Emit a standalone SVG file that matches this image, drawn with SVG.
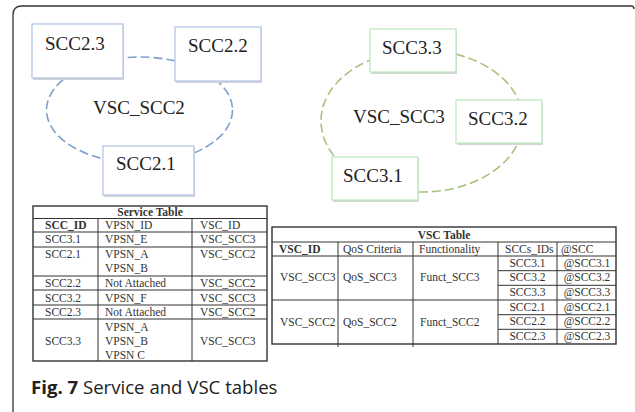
<svg xmlns="http://www.w3.org/2000/svg" width="635" height="412" viewBox="0 0 635 412">
<style>
.nodeB{fill:#fff;stroke:#b3c7e6;stroke-width:1.3}
.nodeG{fill:#fff;stroke:#bfe9bf;stroke-width:1.3}
.shadow{fill:#d4d4d4}
.lbl{font-family:"Liberation Serif",serif;font-size:19px;fill:#222}
.ell{fill:none;stroke-width:1.6;stroke-dasharray:9 4}
.t{font-family:"Liberation Serif",serif;font-size:11.5px;fill:#333}
.b{font-weight:bold}
.tl{stroke:#333;stroke-width:1;fill:none}
.to{stroke:#333;stroke-width:1.4;fill:none}
.cap{font-family:"Open Sans",sans-serif;font-size:18.6px;fill:#222}
</style>
<rect width="635" height="412" fill="#fff"/>
<path d="M13,412 V15 Q13,6 22,6 H631 Q634,6 634,9" fill="none" stroke="#333" stroke-width="1.3"/>

<g id="connectors">
<ellipse class="ell" cx="139.5" cy="110" rx="93" ry="53" stroke="#7f9fcc"/>
<ellipse class="ell" cx="422" cy="121" rx="101" ry="71" stroke="#a9c27d"/>
</g>

<text class="lbl" x="93" y="114">VSC_SCC2</text>
<text class="lbl" x="353" y="123">VSC_SCC3</text>

<g id="scc2_3"><rect class="shadow" x="33" y="26" width="91" height="54"/><rect class="nodeB" x="32" y="24" width="91" height="54"/><text class="lbl" x="45" y="50">SCC2.3</text></g>
<g id="scc2_2"><rect class="shadow" x="176" y="29" width="86" height="54"/><rect class="nodeB" x="175" y="27" width="86" height="54"/><text class="lbl" x="188" y="52">SCC2.2</text></g>
<g id="scc2_1"><rect class="shadow" x="104" y="148" width="91" height="49"/><rect class="nodeB" x="103" y="146" width="91" height="49"/><text class="lbl" x="116" y="170">SCC2.1</text></g>
<g id="scc3_3"><rect class="shadow" x="371" y="31" width="86" height="43"/><rect class="nodeG" x="370" y="29" width="86" height="43"/><text class="lbl" x="382" y="54">SCC3.3</text></g>
<g id="scc3_2"><rect class="shadow" x="457" y="102" width="86" height="43"/><rect class="nodeG" x="456" y="100" width="86" height="43"/><text class="lbl" x="468" y="125">SCC3.2</text></g>
<g id="scc3_1"><rect class="shadow" x="333" y="159" width="86" height="43"/><rect class="nodeG" x="332" y="157" width="86" height="43"/><text class="lbl" x="343" y="182">SCC3.1</text></g>

<g id="service_table">
<rect class="to" x="33" y="206" width="234" height="155"/>
<path class="tl" d="M33,218.5H267 M33,232H267 M33,247H267 M33,276H267 M33,290H267 M33,305H267 M33,319H267 M98,218.5V361 M192,218.5V361"/>
<text class="t b" x="150" y="215.5" text-anchor="middle">Service Table</text>
<text class="t b" x="45" y="229">SCC_ID</text><text class="t" x="105" y="229">VPSN_ID</text><text class="t" x="200" y="229">VSC_ID</text>
<text class="t" x="45" y="243">SCC3.1</text><text class="t" x="105" y="243">VPSN_E</text><text class="t" x="200" y="243">VSC_SCC3</text>
<text class="t" x="45" y="258">SCC2.1</text><text class="t" x="105" y="258">VPSN_A</text><text class="t" x="105" y="272">VPSN_B</text><text class="t" x="200" y="258">VSC_SCC2</text>
<text class="t" x="45" y="287">SCC2.2</text><text class="t" x="105" y="287">Not Attached</text><text class="t" x="200" y="287">VSC_SCC2</text>
<text class="t" x="45" y="301.5">SCC3.2</text><text class="t" x="105" y="301.5">VPSN_F</text><text class="t" x="200" y="301.5">VSC_SCC3</text>
<text class="t" x="45" y="316">SCC2.3</text><text class="t" x="105" y="316">Not Attached</text><text class="t" x="200" y="316">VSC_SCC2</text>
<text class="t" x="45" y="344.5">SCC3.3</text><text class="t" x="105" y="331">VPSN_A</text><text class="t" x="105" y="345">VPSN_B</text><text class="t" x="105" y="358.5">VPSN C</text><text class="t" x="200" y="344.5">VSC_SCC3</text>
</g>

<g id="vsc_table">
<rect class="to" x="272" y="227" width="344" height="117"/>
<path class="tl" d="M272,242H616 M272,256H616 M272,300H616 M498,270.7H616 M498,285.3H616 M498,314.7H616 M498,329.3H616 M338,242V347 M413,242V347 M498,242V344 M557,242V344"/>
<text class="t b" x="444" y="239" text-anchor="middle">VSC Table</text>
<text class="t b" x="279" y="253">VSC_ID</text><text class="t" x="343" y="253">QoS Criteria</text><text class="t" x="419" y="253">Functionality</text><text class="t" x="505" y="253">SCCs_IDs</text><text class="t" x="561" y="253">@SCC</text>
<text class="t" x="280" y="281">VSC_SCC3</text><text class="t" x="343" y="281">QoS_SCC3</text><text class="t" x="420" y="281">Funct_SCC3</text>
<text class="t" x="280" y="326">VSC_SCC2</text><text class="t" x="343" y="326">QoS_SCC2</text><text class="t" x="420" y="326">Funct_SCC2</text>
<text class="t" x="527.5" y="266.5" text-anchor="middle">SCC3.1</text><text class="t" x="587" y="266.5" text-anchor="middle">@SCC3.1</text>
<text class="t" x="527.5" y="281" text-anchor="middle">SCC3.2</text><text class="t" x="587" y="281" text-anchor="middle">@SCC3.2</text>
<text class="t" x="527.5" y="296" text-anchor="middle">SCC3.3</text><text class="t" x="587" y="296" text-anchor="middle">@SCC3.3</text>
<text class="t" x="527.5" y="310.5" text-anchor="middle">SCC2.1</text><text class="t" x="587" y="310.5" text-anchor="middle">@SCC2.1</text>
<text class="t" x="527.5" y="325" text-anchor="middle">SCC2.2</text><text class="t" x="587" y="325" text-anchor="middle">@SCC2.2</text>
<text class="t" x="527.5" y="340" text-anchor="middle">SCC2.3</text><text class="t" x="587" y="340" text-anchor="middle">@SCC2.3</text>
</g>

<text class="cap" x="31" y="394"><tspan font-weight="bold">Fig. 7</tspan> Service and VSC tables</text>
</svg>
